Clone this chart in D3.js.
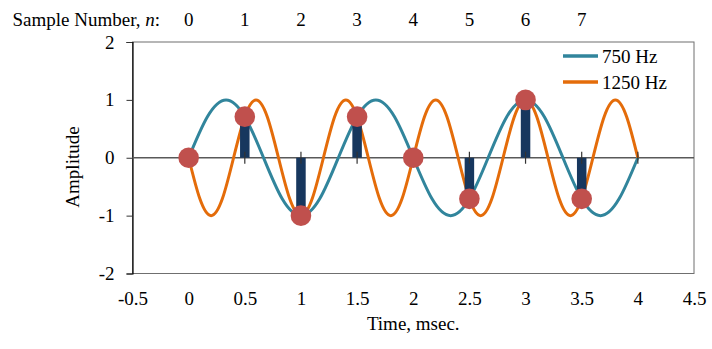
<!DOCTYPE html>
<html>
<head>
<meta charset="utf-8">
<script src="https://cdn.jsdelivr.net/npm/d3@7"></script>
<style>
  html, body { margin: 0; padding: 0; background: #fff; }
  svg { display: block; }
  text { font-family: "Liberation Serif", "Times New Roman", serif; font-size: 19px; fill: #000; }
</style>
</head>
<body>
<svg id="chart" width="712" height="349"></svg>
<script>
// ---- data ----
const sampleNumbers = [0, 1, 2, 3, 4, 5, 6, 7];
const sampleTimes   = [0, 0.5, 1, 1.5, 2, 2.5, 3, 3.5];
const sampleValues  = [0, 0.71, -1, 0.71, 0, -0.71, 1, -0.71];

const wave750Times = [0, 0.167, 0.333, 0.5, 0.667, 0.833, 1, 1.167, 1.333, 1.5, 1.667, 1.833, 2,
                      2.167, 2.333, 2.5, 2.667, 2.833, 3, 3.167, 3.333, 3.5, 3.667, 3.833, 4];
const wave750Values = [0, 0.71, 1, 0.71, 0, -0.71, -1, -0.71, 0, 0.71, 1, 0.71, 0,
                       -0.71, -1, -0.71, 0, 0.71, 1, 0.71, 0, -0.71, -1, -0.71, 0];

const wave1250Times = [0, 0.1, 0.2, 0.3, 0.4, 0.5, 0.6, 0.7, 0.8, 0.9, 1.0, 1.1, 1.2, 1.3, 1.4, 1.5,
                       1.6, 1.7, 1.8, 1.9, 2.0, 2.1, 2.2, 2.3, 2.4, 2.5, 2.6, 2.7, 2.8, 2.9, 3.0,
                       3.1, 3.2, 3.3, 3.4, 3.5, 3.6, 3.7, 3.8, 3.9, 4.0];
const wave1250Values = [0, -0.71, -1, -0.71, 0, 0.71, 1, 0.71, 0, -0.71, -1, -0.71, 0, 0.71, 1, 0.71,
                        0, -0.71, -1, -0.71, 0, 0.71, 1, 0.71, 0, -0.71, -1, -0.71, 0, 0.71, 1,
                        0.71, 0, -0.71, -1, -0.71, 0, 0.71, 1, 0.71, 0];

const seriesNames = ["750 Hz", "1250 Hz"];
const xTicks = [-0.5, 0, 0.5, 1, 1.5, 2, 2.5, 3, 3.5, 4, 4.5];
const xTickLabels = ["-0.5", "0", "0.5", "1", "1.5", "2", "2.5", "3", "3.5", "4", "4.5"];
const yTicks = [-2, -1, 0, 1, 2];
const yTickLabels = ["-2", "-1", "0", "1", "2"];
const zeroLineTicks = [0, 0.5, 1, 1.5, 2, 2.5, 3, 3.5, 4];

// ---- layout ----
const svg = d3.select("#chart");
const L = 132.5, R = 694, T = 42, B = 273.5;
const x = d3.scaleLinear().domain([-0.5, 4.5]).range([L, R]);
const y = d3.scaleLinear().domain([-2, 2]).range([B, T]);

const colBlue = "#31859C", colOrange = "#E46C0A", colBar = "#17375E", colDot = "#C0504D";

// plot area border
svg.append("rect").attr("x", L).attr("y", T).attr("width", R - L).attr("height", B - T)
  .attr("fill", "none").attr("stroke", "#6f6f6f").attr("stroke-width", 1);

// y axis
const yAxis = svg.append("g").attr("transform", `translate(${L},0)`)
  .call(d3.axisLeft(y).tickValues(yTicks).tickSize(6).tickPadding(12)
    .tickFormat((d, i) => yTickLabels[i]));
yAxis.select(".domain").attr("stroke", "#000").attr("stroke-width", 1.2);
yAxis.selectAll(".tick line").attr("stroke", "#333");
yAxis.selectAll("text").style("font-family", "Liberation Serif").style("font-size", "19px").attr("fill", "#000");

// x axis labels (below plot)
const xAxis = svg.append("g").attr("transform", `translate(0,${B})`)
  .call(d3.axisBottom(x).tickValues(xTicks).tickSize(0).tickPadding(18)
    .tickFormat((d, i) => xTickLabels[i]));
xAxis.select(".domain").remove();
xAxis.selectAll("text").style("font-family", "Liberation Serif").style("font-size", "19px").attr("fill", "#000");

// zero line
svg.append("line").attr("x1", L).attr("x2", R).attr("y1", y(0)).attr("y2", y(0))
  .attr("stroke", "#595959").attr("stroke-width", 1.5);

// curves
const line = d3.line().x(d => x(d[0])).y(d => y(d[1])).curve(d3.curveNatural);
const w750 = wave750Times.map((t, i) => [t, wave750Values[i]]);
const w1250 = wave1250Times.map((t, i) => [t, wave1250Values[i]]);
svg.append("path").datum(w750).attr("d", line).attr("fill", "none")
  .attr("stroke", colBlue).attr("stroke-width", 3).attr("stroke-linejoin", "round");
svg.append("path").datum(w1250).attr("d", line).attr("fill", "none")
  .attr("stroke", colOrange).attr("stroke-width", 3).attr("stroke-linejoin", "round");

// sample bars
const barW = 9.5;
svg.append("g").selectAll("rect").data(sampleTimes.map((t, i) => [t, sampleValues[i]]))
  .join("rect")
  .attr("x", d => x(d[0]) - barW / 2)
  .attr("width", barW)
  .attr("y", d => Math.min(y(0), y(d[1])))
  .attr("height", d => Math.abs(y(d[1]) - y(0)))
  .attr("fill", colBar);

// tick marks crossing the zero line
svg.append("g").selectAll("line").data(zeroLineTicks).join("line")
  .attr("x1", d => x(d)).attr("x2", d => x(d))
  .attr("y1", y(0) - 6).attr("y2", y(0) + 6)
  .attr("stroke", "#333").attr("stroke-width", 1.2);

// sample dots
svg.append("g").selectAll("circle").data(sampleTimes.map((t, i) => [t, sampleValues[i]]))
  .join("circle")
  .attr("cx", d => x(d[0])).attr("cy", d => y(d[1])).attr("r", 10.3)
  .attr("fill", colDot);

// top: sample numbers
svg.append("text").attr("x", 12.5).attr("y", 25.5)
  .html('Sample Number, <tspan font-style="italic">n</tspan>:');
svg.append("g").selectAll("text").data(sampleNumbers).join("text")
  .attr("x", (d, i) => x(sampleTimes[i])).attr("y", 25.5)
  .attr("text-anchor", "middle").text(d => d);

// axis titles
svg.append("text").attr("x", (L + R) / 2).attr("y", 329.5).attr("text-anchor", "middle")
  .text("Time, msec.");
svg.append("text").attr("transform", "translate(79,167) rotate(-90)").attr("text-anchor", "middle")
  .text("Amplitude");

// legend
const legendColors = [colBlue, colOrange];
const lg = svg.append("g");
seriesNames.forEach((name, i) => {
  const cy = 56 + i * 26;
  lg.append("line").attr("x1", 563).attr("x2", 598).attr("y1", cy).attr("y2", cy)
    .attr("stroke", legendColors[i]).attr("stroke-width", 3.5);
  lg.append("text").attr("x", 602).attr("y", cy + 7).text(name);
});
</script>
</body>
</html>
